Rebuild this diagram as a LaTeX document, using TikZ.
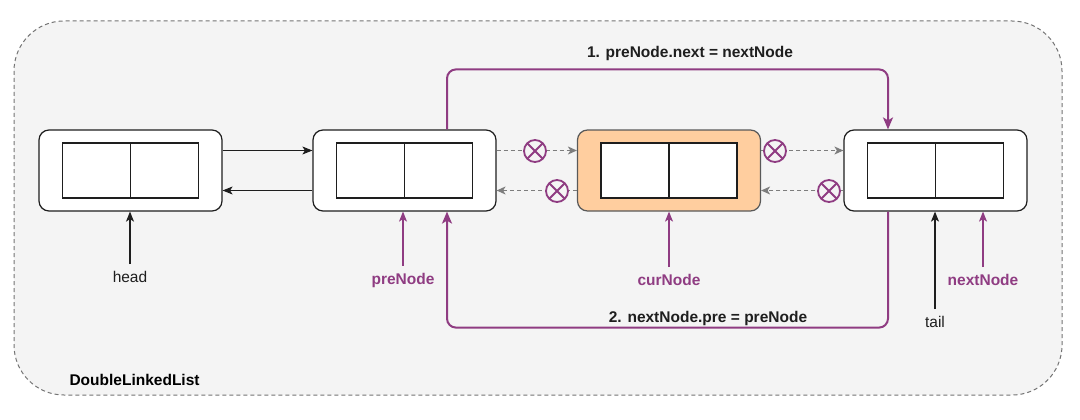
\documentclass[tikz,border=0pt]{standalone}
\usepackage{fontspec}
\setmainfont{Liberation Sans}
\usetikzlibrary{arrows.meta}
\definecolor{pur}{RGB}{143,60,130}
\definecolor{bgc}{RGB}{244,244,244}
\definecolor{org}{RGB}{255,206,159}
\definecolor{dgray}{RGB}{125,125,125}
\definecolor{edge}{RGB}{30,30,30}
\begin{document}
\begin{tikzpicture}[x=1pt,y=-1pt,
  font=\fontsize{15.5}{18}\selectfont,
  listbox/.style={draw=edge, line width=1.2pt, fill=white, rounded corners=10pt,
    minimum width=183pt, minimum height=81pt, inner sep=0pt},
  curbox/.style={listbox, fill=org, draw=black!65},
  cell/.style={draw=edge, line width=1.1pt, fill=white, minimum width=68pt,
    minimum height=55pt, inner sep=0pt},
  tip/.style={-{Stealth[length=10pt,width=8pt,inset=2.5pt]}},
  link/.style={tip, draw=edge, line width=1.1pt},
  dlink/.style={-{Stealth[length=9pt,width=8pt,inset=2.5pt]}, draw=dgray,
    line width=1.1pt, dash pattern=on 4pt off 3pt},
  ptr/.style={tip, draw=edge, line width=1.3pt, shorten <=6pt},
  pptr/.style={tip, draw=pur, line width=1.3pt, shorten <=6pt},
  relink/.style={-{Stealth[length=12pt,width=10pt,inset=3pt]}, draw=pur,
    line width=2pt, rounded corners=9pt},
  cut/.style={circle, draw=pur, line width=1.8pt, fill=bgc, minimum size=22pt,
    inner sep=0pt, path picture={\draw[pur, line width=1.8pt]
      (path picture bounding box.south west) -- (path picture bounding box.north east)
      (path picture bounding box.north west) -- (path picture bounding box.south east);}},
  plabel/.style={text=pur, font=\fontsize{15.5}{18}\selectfont\bfseries, inner sep=1pt},
  blabel/.style={text=edge, inner sep=1pt},
  steplabel/.style={text=edge, font=\fontsize{15.5}{18}\selectfont\bfseries, inner sep=1pt}
]
\useasboundingbox (0,0) rectangle (1080,420);
\draw[draw=black!55, fill=bgc, line width=1pt, dash pattern=on 4pt off 3pt,
  rounded corners=50pt] (14,21) rectangle (1062,395);
\node[text=black, font=\fontsize{15.5}{18}\selectfont\bfseries, anchor=west] (title) at (66,380) {DoubleLinkedList};

% list nodes
\node[listbox] (n1) at (130.5,170.5) {};
\node[listbox] (n2) at (404.5,170.5) {};
\node[curbox]  (n3) at (669,170.5) {};
\node[listbox] (n4) at (935.5,170.5) {};
\foreach \n/\c in {n1/130.5,n2/404.5,n3/669,n4/935.5}{
  \node[cell] (\n a) at (\c-34,170.5) {};
  \node[cell] (\n b) at (\c+34,170.5) {};
}

% solid links
\draw[link] ([yshift=20pt]n1.east) -- ([yshift=20pt]n2.west);
\draw[link] ([yshift=-20pt]n2.west) -- ([yshift=-20pt]n1.east);

% broken links
\draw[dlink] ([yshift=20pt]n2.east) -- ([yshift=20pt]n3.west);
\draw[dlink] ([yshift=-20pt]n3.west) -- ([yshift=-20pt]n2.east);
\draw[dlink] ([yshift=20pt]n3.east) -- ([yshift=20pt]n4.west);
\draw[dlink] ([yshift=-20pt]n4.west) -- ([yshift=-20pt]n3.east);
\node[cut] (x1) at (535,151) {};
\node[cut] (x2) at (557,191) {};
\node[cut] (x3) at (775,151) {};
\node[cut] (x4) at (829,191) {};

% relinks
\draw[relink] ([xshift=42.5pt]n2.north) -- ++(0,-60) -| ([xshift=-47.5pt]n4.north);
\node[steplabel] (s1) at (690,53) {1. preNode.next = nextNode};
\draw[relink] ([xshift=-47.5pt]n4.south) -- ++(0,116) -| ([xshift=42.5pt]n2.south);
\node[steplabel] (s2) at (708,318) {2. nextNode.pre = preNode};

% pointers
\node[blabel] (head) at (130,277) {head};
\draw[ptr] (head.north) -- (head.north |- n1.south);
\node[plabel] (pre) at (403,280) {preNode};
\draw[pptr] (pre.north) -- (pre.north |- n2.south);
\node[plabel] (cur) at (669,280) {curNode};
\draw[pptr] (cur.north) -- (cur.north |- n3.south);
\node[blabel] (tail) at (935,322) {tail};
\draw[ptr] (tail.north) -- (tail.north |- n4.south);
\node[plabel] (next) at (983,280) {nextNode};
\draw[pptr] (next.north) -- (next.north |- n4.south);
\end{tikzpicture}
\end{document}
